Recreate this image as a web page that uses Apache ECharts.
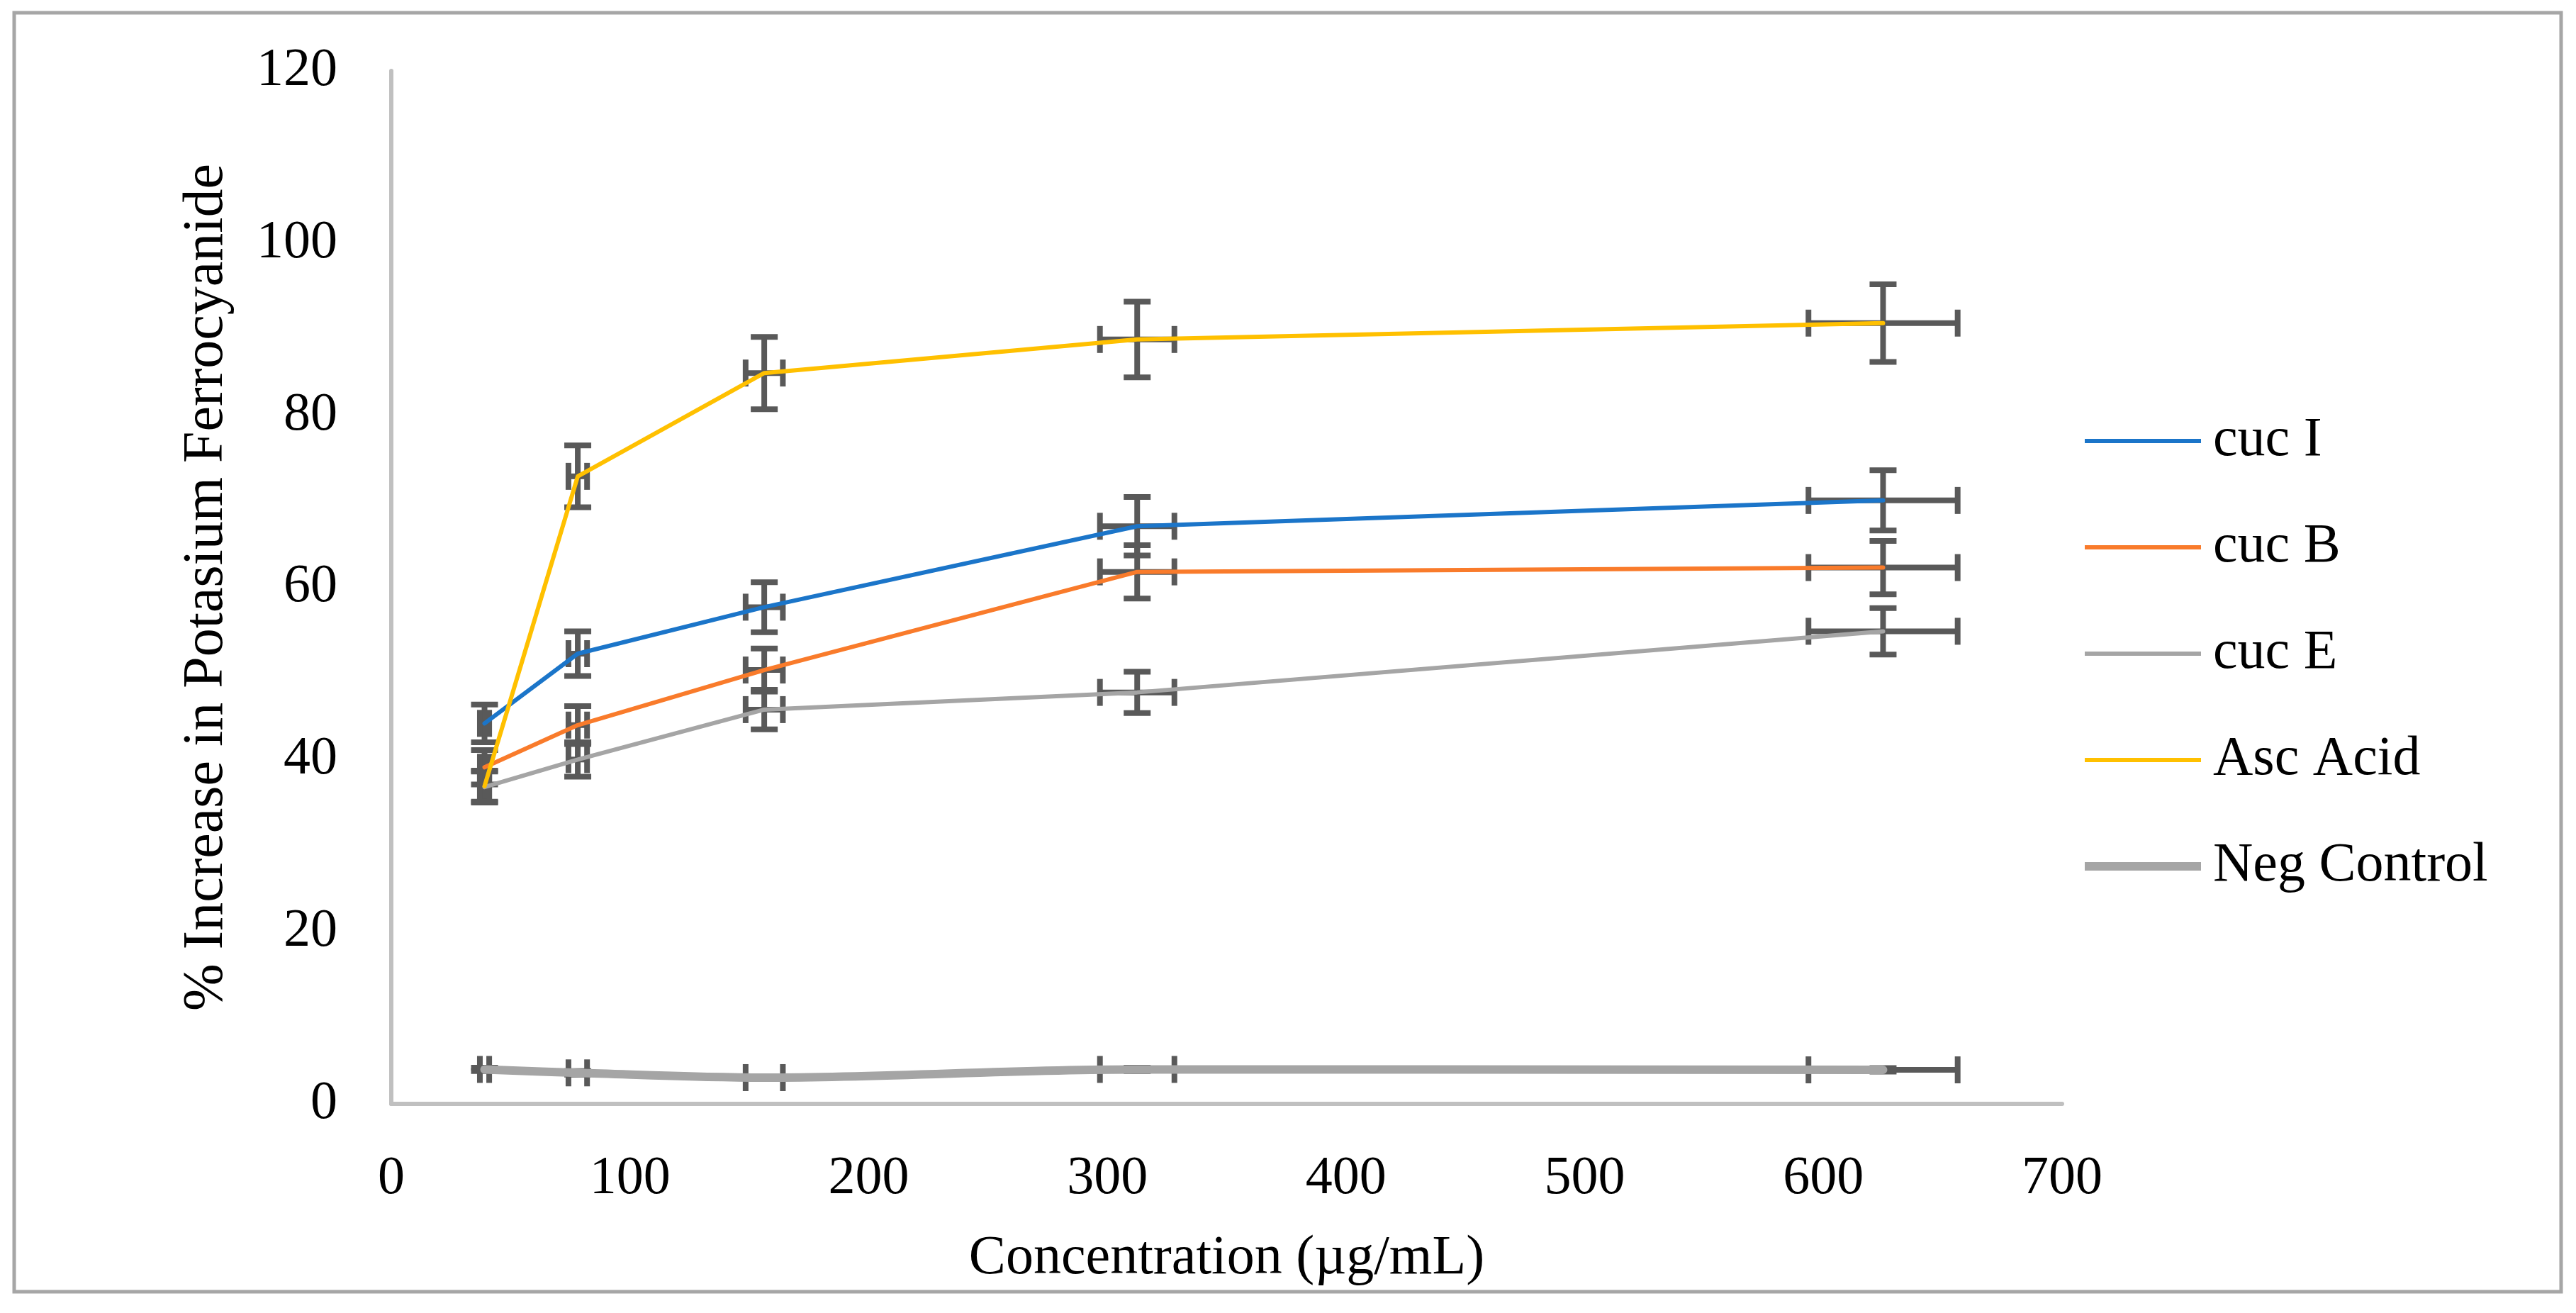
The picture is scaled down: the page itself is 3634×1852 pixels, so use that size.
<!DOCTYPE html>
<html>
<head>
<meta charset="utf-8">
<script src="https://cdn.jsdelivr.net/npm/echarts@6/dist/echarts.min.js"></script>
<style>
html,body{margin:0;padding:0;background:#fff;}
#chart{width:3634px;height:1852px;}
</style>
</head>
<body>
<div id="chart"></div>
<script>
// ---- data ----
const concentrations = [39.0625, 78.125, 156.25, 312.5, 625];
const xTicks = [0, 100, 200, 300, 400, 500, 600, 700];
const yTicks = [0, 20, 40, 60, 80, 100, 120];

const seriesNames = ['cuc I', 'cuc B', 'cuc E', 'Asc Acid', 'Neg Control'];
const cucI = [44.2, 52.3, 57.7, 67.1, 70.1];
const cucB = [39.1, 44.0, 50.4, 61.8, 62.3];
const cucE = [36.8, 40.0, 45.8, 47.8, 54.9];
const ascAcid = [36.9, 72.9, 84.9, 88.8, 90.7];
const negControl = [4.0, 3.6, 3.05, 4.0, 3.95];

// error bar half-lengths
const xErr = [1.95, 3.9, 7.8, 15.6, 31.25];
const cucIErr = [2.2, 2.6, 2.9, 3.4, 3.5];
const cucBErr = [2.0, 2.2, 2.5, 3.1, 3.1];
const cucEErr = [1.8, 2.0, 2.3, 2.4, 2.7];
const ascAcidErr = [1.8, 3.6, 4.2, 4.4, 4.5];
const negControlErr = [0.2, 0.2, 0.15, 0.2, 0.2];

// ---- chart ----
const FONT = 'Liberation Serif';
const values = [cucI, cucB, cucE, ascAcid, negControl];
const errs = [cucIErr, cucBErr, cucEErr, ascAcidErr, negControlErr];
const colors = ['#1B75C9', '#F97B2B', '#A5A5A5', '#FFC000', '#A5A5A5'];
const widths = [6, 6, 6, 6, 12];

// legend icon: a bar of the series' line thickness inside a 164x20 box
function barIcon(th) {
  const y1 = (20 - th) / 2, y2 = y1 + th;
  return 'path://M0,0L0.01,0L0.01,0.01Z' +
    'M0,' + y1 + 'H164V' + y2 + 'H0Z' +
    'M163.99,20L164,20L164,19.99Z';
}

const chart = echarts.init(document.getElementById('chart'), null, {renderer: 'canvas'});

function renderErr(params, api) {
  const x = api.value(0), y = api.value(1), ex = api.value(2), ey = api.value(3);
  const c = api.coord([x, y]);
  const t = api.coord([x, y + ey]);
  const b = api.coord([x, y - ey]);
  const l = api.coord([x - ex, y]);
  const r = api.coord([x + ex, y]);
  const cap = 19;
  const st = {stroke: '#595959', lineWidth: 8, lineCap: 'butt'};
  const ln = (x1, y1, x2, y2) => ({type: 'line', shape: {x1, y1, x2, y2}, style: st});
  return {
    type: 'group',
    children: [
      ln(c[0], t[1], c[0], b[1]),
      ln(c[0] - cap, t[1], c[0] + cap, t[1]),
      ln(c[0] - cap, b[1], c[0] + cap, b[1]),
      ln(l[0], c[1], r[0], c[1]),
      ln(l[0], c[1] - cap, l[0], c[1] + cap),
      ln(r[0], c[1] - cap, r[0], c[1] + cap)
    ]
  };
}

const series = [];
seriesNames.forEach((name, i) => {
  series.push({
    name: name + ' err',
    type: 'custom',
    renderItem: renderErr,
    z: 1,
    silent: true,
    encode: {x: 0, y: 1},
    data: concentrations.map((x, k) => [x, values[i][k], xErr[k], errs[i][k]])
  });
});
seriesNames.forEach((name, i) => {
  series.push({
    name: name,
    type: 'line',
    z: 3,
    symbol: 'none',
    smooth: name === 'Neg Control' ? 0.35 : false,
    color: colors[i],
    itemStyle: {color: colors[i]},
    lineStyle: {color: colors[i], width: widths[i], cap: 'round', join: 'round'},
    data: concentrations.map((x, k) => [x, values[i][k]])
  });
});

chart.setOption({
  animation: false,
  backgroundColor: '#ffffff',
  graphic: [{
    type: 'rect',
    shape: {x: 20, y: 18, width: 3593, height: 1804},
    style: {fill: 'none', stroke: '#A6A6A6', lineWidth: 5},
    z: -10
  }],
  grid: {left: 552, right: 725, top: 100, bottom: 295, containLabel: false},
  xAxis: {
    type: 'value',
    min: xTicks[0],
    max: xTicks[xTicks.length - 1],
    interval: xTicks[1] - xTicks[0],
    name: 'Concentration (µg/mL)',
    nameLocation: 'middle',
    nameGap: 180,
    nameTextStyle: {fontFamily: FONT, fontSize: 78, color: '#000', lineHeight: 78},
    axisLine: {show: true, lineStyle: {color: '#C0C0C0', width: 6}},
    axisTick: {show: false},
    splitLine: {show: false},
    axisLabel: {fontFamily: FONT, fontSize: 76, color: '#000', margin: 68, lineHeight: 76}
  },
  yAxis: {
    type: 'value',
    min: yTicks[0],
    max: yTicks[yTicks.length - 1],
    interval: yTicks[1] - yTicks[0],
    name: '% Increase in Potasium Ferrocyanide',
    nameLocation: 'middle',
    nameRotate: 90,
    nameGap: 220,
    nameTextStyle: {fontFamily: FONT, fontSize: 80, color: '#000', lineHeight: 80},
    axisLine: {show: true, lineStyle: {color: '#C0C0C0', width: 6}},
    axisTick: {show: false},
    splitLine: {show: false},
    axisLabel: {fontFamily: FONT, fontSize: 76, color: '#000', margin: 76}
  },
  legend: {
    data: seriesNames.map((n, i) => ({name: n, icon: barIcon(widths[i]), itemStyle: {color: colors[i]}})),
    orient: 'vertical',
    left: 2936,
    top: 578,
    itemWidth: 164,
    itemHeight: 20,
    itemGap: 72,
    textStyle: {fontFamily: FONT, fontSize: 78, color: '#000', lineHeight: 78, padding: [0, 0, 0, 12]}
  },
  series: series
});
</script>
</body>
</html>
